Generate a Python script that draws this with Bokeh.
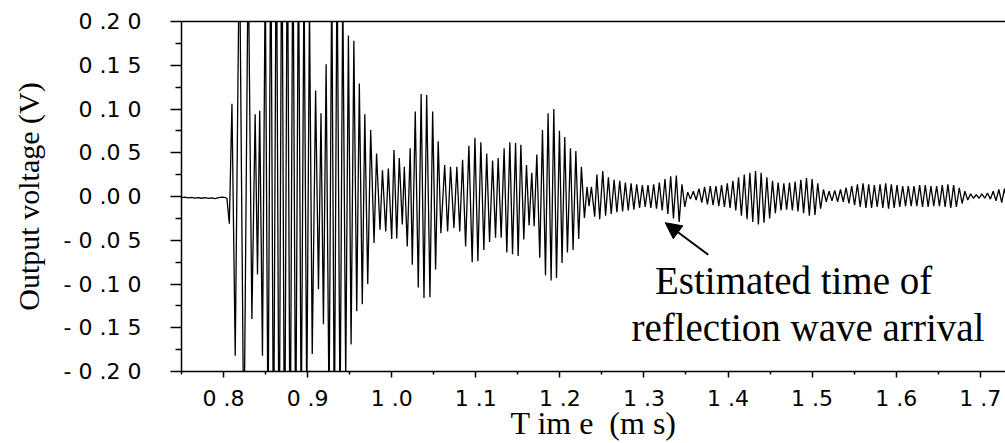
from bokeh.plotting import figure
from bokeh.models import (Range1d, FixedTicker, CustomJSTickFormatter, LinearAxis,
                          Label, Arrow, NormalHead)
from bokeh.embed import file_html
from bokeh.resources import INLINE

# ---------------- data ----------------
# time (ms) of each sample / extremum and output voltage (V)
t_ms = [
    0.7500, 0.7540, 0.7580, 0.7620, 0.7660, 0.7700, 0.7740, 0.7780, 0.7820, 0.7860,
    0.7900, 0.7940, 0.7980, 0.8010, 0.8040, 0.8069, 0.8100, 0.8139, 0.8189, 0.8242,
    0.8293, 0.8337, 0.8376, 0.8404, 0.8430, 0.8463, 0.8496, 0.8529, 0.8562, 0.8595,
    0.8628, 0.8661, 0.8693, 0.8726, 0.8759, 0.8792, 0.8825, 0.8858, 0.8891, 0.8924,
    0.8957, 0.8990, 0.9022, 0.9055, 0.9095, 0.9129, 0.9159, 0.9188, 0.9220, 0.9255,
    0.9287, 0.9318, 0.9350, 0.9386, 0.9418, 0.9453, 0.9485, 0.9517, 0.9550, 0.9584,
    0.9615, 0.9650, 0.9680, 0.9715, 0.9750, 0.9790, 0.9820, 0.9861, 0.9890, 0.9929,
    0.9960, 1.0000, 1.0027, 1.0060, 1.0090, 1.0126, 1.0150, 1.0185, 1.0220, 1.0245,
    1.0280, 1.0316, 1.0350, 1.0384, 1.0416, 1.0455, 1.0487, 1.0522, 1.0553, 1.0585,
    1.0630, 1.0665, 1.0700, 1.0740, 1.0775, 1.0809, 1.0843, 1.0879, 1.0918, 1.0957,
    1.0990, 1.1025, 1.1060, 1.1096, 1.1130, 1.1164, 1.1200, 1.1235, 1.1266, 1.1302,
    1.1337, 1.1369, 1.1405, 1.1437, 1.1473, 1.1504, 1.1536, 1.1571, 1.1603, 1.1634,
    1.1666, 1.1694, 1.1726, 1.1761, 1.1793, 1.1829, 1.1860, 1.1896, 1.1928, 1.1960,
    1.1995, 1.2026, 1.2058, 1.2090, 1.2126, 1.2157, 1.2190, 1.2224, 1.2256, 1.2292,
    1.2323, 1.2347, 1.2375, 1.2414, 1.2440, 1.2474,
    1.2510, 1.2544, 1.2577, 1.2611, 1.2645, 1.2678, 1.2712, 1.2746, 1.2779, 1.2813,
    1.2847, 1.2880, 1.2914, 1.2948, 1.2981, 1.3015, 1.3048, 1.3082, 1.3116, 1.3149,
    1.3183, 1.3217, 1.3250, 1.3284, 1.3318, 1.3351, 1.3385, 1.3419, 1.3452, 1.3486,
    1.3520, 1.3553, 1.3587, 1.3621, 1.3654, 1.3688, 1.3721, 1.3755, 1.3789, 1.3822,
    1.3856, 1.3890, 1.3923, 1.3957, 1.3991, 1.4024, 1.4058, 1.4092, 1.4125, 1.4159,
    1.4193, 1.4226, 1.4260, 1.4294, 1.4327, 1.4361, 1.4394, 1.4428, 1.4462, 1.4495,
    1.4529, 1.4563, 1.4596, 1.4630, 1.4664, 1.4697, 1.4731, 1.4765, 1.4798, 1.4832,
    1.4866, 1.4899, 1.4933, 1.4967, 1.5000, 1.5034, 1.5067, 1.5101, 1.5135, 1.5168,
    1.5202, 1.5236, 1.5269, 1.5303, 1.5337, 1.5370, 1.5404, 1.5438, 1.5471, 1.5505,
    1.5539, 1.5572, 1.5606, 1.5640, 1.5673, 1.5707, 1.5740, 1.5774, 1.5808, 1.5841,
    1.5875, 1.5909, 1.5942, 1.5976, 1.6010, 1.6043, 1.6077, 1.6111, 1.6144, 1.6178,
    1.6212, 1.6245, 1.6279, 1.6313, 1.6346, 1.6380, 1.6413, 1.6447, 1.6481, 1.6514,
    1.6548, 1.6582, 1.6615, 1.6649, 1.6683, 1.6716, 1.6750, 1.6784, 1.6817, 1.6851,
    1.6885, 1.6918, 1.6952, 1.6986, 1.7019, 1.7053, 1.7086, 1.7120, 1.7154, 1.7187,
    1.7221, 1.7255, 1.7288, 1.7322,
]
volts = [
    -0.0012, -0.0008, -0.0015, -0.0010, -0.0018, -0.0012, -0.0020, -0.0014, -0.0022, -0.0016,
    -0.0024, -0.0012, -0.0008, -0.0010, -0.0020, -0.0310, 0.1060, -0.1820, 0.3000, -0.3000,
    0.2800, -0.1400, 0.0940, -0.0890, 0.0980, -0.1820, 0.2600, -0.2800, 0.3200, -0.3300,
    0.3500, -0.3500, 0.3600, -0.3500, 0.3400, -0.3300, 0.3200, -0.3000, 0.2900, -0.2700,
    0.2600, -0.2400, 0.2200, -0.1800, 0.1210, -0.1060, 0.0950, -0.1460, 0.1510, -0.2500,
    0.2600, -0.2800, 0.2800, -0.2600, 0.2400, -0.2100, 0.1840, -0.1690, 0.1780, -0.1310,
    0.1290, -0.1230, 0.0940, -0.1000, 0.0760, -0.0530, 0.0490, -0.0380, 0.0300, -0.0400,
    0.0320, -0.0486, 0.0530, -0.0480, 0.0440, -0.0320, 0.0340, -0.0570, 0.0550, -0.0780,
    0.0970, -0.1040, 0.1170, -0.1160, 0.1160, -0.1150, 0.0970, -0.0835, 0.0630, -0.0420,
    0.0360, -0.0400, 0.0340, -0.0360, 0.0340, -0.0400, 0.0420, -0.0570, 0.0580, -0.0750,
    0.0670, -0.0740, 0.0620, -0.0610, 0.0490, -0.0520, 0.0410, -0.0470, 0.0440, -0.0470,
    0.0550, -0.0640, 0.0620, -0.0660, 0.0610, -0.0680, 0.0590, -0.0490, 0.0360, -0.0330,
    0.0270, -0.0340, 0.0480, -0.0700, 0.0760, -0.0900, 0.0950, -0.0960, 0.1000, -0.0930,
    0.0750, -0.0760, 0.0680, -0.0640, 0.0550, -0.0610, 0.0520, -0.0486, 0.0340, -0.0246,
    0.0110, -0.0110, 0.0110, -0.0230, 0.0250, -0.0260,
    0.0290, -0.0220, 0.0220, -0.0200, 0.0190, -0.0180, 0.0180, -0.0170, 0.0160, -0.0160,
    0.0150, -0.0150, 0.0140, -0.0130, 0.0130, -0.0120, 0.0130, -0.0130, 0.0140, -0.0140,
    0.0160, -0.0160, 0.0200, -0.0200, 0.0230, -0.0250, 0.0240, -0.0290, 0.0140, -0.0120,
    0.0050, -0.0030, 0.0060, -0.0040, 0.0090, -0.0070, 0.0110, -0.0090, 0.0120, -0.0100,
    0.0120, -0.0110, 0.0130, -0.0120, 0.0150, -0.0130, 0.0180, -0.0160, 0.0220, -0.0220,
    0.0250, -0.0260, 0.0270, -0.0290, 0.0290, -0.0320, 0.0270, -0.0300, 0.0220, -0.0250,
    0.0180, -0.0190, 0.0160, -0.0160, 0.0150, -0.0150, 0.0160, -0.0160, 0.0170, -0.0170,
    0.0190, -0.0190, 0.0210, -0.0220, 0.0200, -0.0210, 0.0150, -0.0140, 0.0080, -0.0060,
    0.0060, -0.0050, 0.0070, -0.0060, 0.0080, -0.0060, 0.0100, -0.0080, 0.0120, -0.0100,
    0.0140, -0.0120, 0.0150, -0.0130, 0.0140, -0.0130, 0.0130, -0.0120, 0.0140, -0.0130,
    0.0150, -0.0140, 0.0140, -0.0130, 0.0130, -0.0120, 0.0120, -0.0110, 0.0120, -0.0110,
    0.0120, -0.0110, 0.0130, -0.0120, 0.0130, -0.0120, 0.0120, -0.0110, 0.0120, -0.0110,
    0.0130, -0.0120, 0.0140, -0.0130, 0.0130, -0.0120, 0.0100, -0.0080, 0.0060, -0.0040,
    0.0030, -0.0020, 0.0020, -0.0020, 0.0030, -0.0020, 0.0040, -0.0030, 0.0060, -0.0050,
    0.0080, -0.0070, 0.0090, -0.0080,
]

x_ticks = [0.8, 0.9, 1.0, 1.1, 1.2, 1.3, 1.4, 1.5, 1.6, 1.7]
x_tick_labels = ["0 .8", "0 .9", "1 .0", "1 .1", "1 .2", "1 .3", "1 .4", "1 .5", "1 .6", "1 .7"]
x_minor_ticks = [0.75, 0.85, 0.95, 1.05, 1.15, 1.25, 1.35, 1.45, 1.55, 1.65]
y_ticks = [-0.20, -0.15, -0.10, -0.05, 0.0, 0.05, 0.10, 0.15, 0.20]
y_tick_labels = ["- 0 .2 0", "- 0 .1 5", "- 0 .1 0", "- 0 .0 5", "0 .0 0",
                 "0 .0 5", "0 .1 0", "0 .1 5", "0 .2 0"]
y_minor_ticks = [-0.175, -0.125, -0.075, -0.025, 0.025, 0.075, 0.125, 0.175]

x_title = "T im e\u00a0\u00a0(m s)"
y_title = "Output voltage (V)"
note_line1 = "Estimated time of"
note_line2 = "reflection wave arrival"
note_pos1 = (1.478, -0.0965)
note_pos2 = (1.495, -0.1500)
arrow_tail = (1.3765, -0.0665)
arrow_tip = (1.3253, -0.0300)

# ---------------- figure ----------------
p = figure(width=1005, height=443, output_backend="svg", toolbar_location=None,
           x_range=Range1d(0.75, 1.73), y_range=Range1d(-0.2, 0.2),
           min_border_left=181, min_border_right=0, min_border_top=21, min_border_bottom=71)
p.background_fill_color = "white"
p.border_fill_color = "white"
p.outline_line_color = None
p.xgrid.visible = False
p.ygrid.visible = False

fmt_code = """
let best = 0;
for (let i = 0; i < vals.length; i++) {
  if (Math.abs(vals[i] - tick) < Math.abs(vals[best] - tick)) best = i;
}
return labs[best];
"""

xa = p.xaxis[0]
xa.ticker = FixedTicker(ticks=x_ticks, minor_ticks=x_minor_ticks)
xa.formatter = CustomJSTickFormatter(args=dict(vals=x_ticks, labs=x_tick_labels), code=fmt_code)
xa.axis_line_width = 1.5
xa.axis_line_color = "black"
xa.major_tick_out = 6
xa.major_tick_in = 0
xa.minor_tick_out = 3
xa.minor_tick_in = 0
xa.major_tick_line_width = 1.5
xa.minor_tick_line_width = 1.5
xa.major_label_text_font = "DejaVu Sans"
xa.major_label_text_font_size = "22px"
xa.major_label_text_color = "black"
xa.major_label_standoff = 8
xa.axis_label = x_title
xa.axis_label_text_font = "Liberation Serif"
xa.axis_label_text_font_size = "32px"
xa.axis_label_text_font_style = "normal"
xa.axis_label_text_color = "black"
xa.axis_label_standoff = -9

ya = p.yaxis[0]
ya.ticker = FixedTicker(ticks=y_ticks, minor_ticks=y_minor_ticks)
ya.formatter = CustomJSTickFormatter(args=dict(vals=y_ticks, labs=y_tick_labels), code=fmt_code)
ya.axis_line_width = 1.5
ya.axis_line_color = "black"
ya.major_tick_out = 11
ya.major_tick_in = 0
ya.minor_tick_out = 6
ya.minor_tick_in = 0
ya.major_tick_line_width = 1.5
ya.minor_tick_line_width = 1.5
ya.major_label_text_font = "DejaVu Sans"
ya.major_label_text_font_size = "22px"
ya.major_label_text_color = "black"
ya.major_label_standoff = 29
ya.axis_label = y_title
ya.axis_label_text_font = "Liberation Serif"
ya.axis_label_text_font_size = "30px"
ya.axis_label_text_font_style = "normal"
ya.axis_label_text_color = "black"
ya.axis_label_standoff = 16

top = LinearAxis(ticker=FixedTicker(ticks=[]), major_label_text_font_size="0px",
                 axis_line_width=1.3, axis_line_color="black",
                 major_tick_out=0, major_tick_in=0, minor_tick_out=0, minor_tick_in=0)
p.add_layout(top, "above")

p.line(t_ms, volts, line_color="black", line_width=1.3)

# annotation
p.add_layout(Label(x=note_pos1[0], y=note_pos1[1], text=note_line1, text_align="center",
                   text_baseline="alphabetic", text_font="Liberation Serif",
                   text_font_size="39px", text_color="black"))
p.add_layout(Label(x=note_pos2[0], y=note_pos2[1], text=note_line2, text_align="center",
                   text_baseline="alphabetic", text_font="Liberation Serif",
                   text_font_size="39px", text_color="black"))
p.add_layout(Arrow(end=NormalHead(size=16, fill_color="black", line_color="black", line_width=1),
                   x_start=arrow_tail[0], y_start=arrow_tail[1],
                   x_end=arrow_tip[0], y_end=arrow_tip[1],
                   line_color="black", line_width=2))

open("out.html", "w").write(file_html(p, INLINE))
